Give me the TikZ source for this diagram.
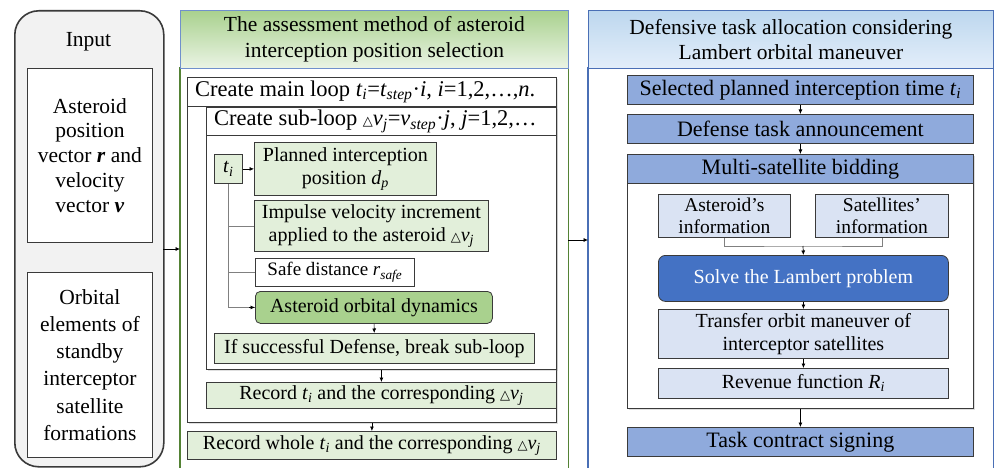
\documentclass[tikz,border=0pt]{standalone}
\usepackage{fontspec}
\setmainfont{Liberation Serif}
\newfontfamily\dejavu{DejaVu Serif}
\usetikzlibrary{arrows.meta,shadows}
\definecolor{boxline}{HTML}{3A3A3A}
\definecolor{lgreen}{HTML}{E2EFDA}
\definecolor{mgreen}{HTML}{A9D18E}
\definecolor{dgreen}{HTML}{548235}
\definecolor{hborder}{HTML}{7090CC}
\definecolor{lblue}{HTML}{DAE3F3}
\definecolor{mblue}{HTML}{8FAADC}
\definecolor{dblue}{HTML}{4472C4}
\definecolor{bborder}{HTML}{4A6FB5}
\definecolor{hbluetop}{HTML}{BDD7EE}
\definecolor{hbluebot}{HTML}{E3EEFA}
\definecolor{panelgray}{HTML}{F2F2F2}
\definecolor{gline}{HTML}{808080}
\newcommand\myti{\textit{t}\textsubscript{\textit{i}}}
\newcommand\mytri{{\dejavu\fontsize{13}{13}\selectfont △}}
\newcommand\mydv{\mytri\textit{v}\textsubscript{\textit{j}}}
\tikzset{
  box/.style={draw=boxline, line width=0.8pt, inner sep=1pt, align=center, anchor=north west,
    font=\fontsize{20}{22.5}\selectfont},
  bigbox/.style={box, font=\fontsize{22}{24}\selectfont},
  ttl/.style={anchor=west, inner sep=0pt, font=\fontsize{22.5}{24}\selectfont},
  arr/.style={-{Latex[length=4.5pt,width=4pt]}, line width=0.7pt, draw=black},
  grayln/.style={draw=gline, line width=0.8pt},
  softshadow/.style={drop shadow={shadow xshift=1.5pt, shadow yshift=-1.5pt, opacity=0.25, fill=gray}},
}
\begin{document}
\begin{tikzpicture}[x=1pt,y=-1pt]
\useasboundingbox (0,0) rectangle (994,468);
% ---------- Input panel
\node[draw=boxline, line width=1.6pt, fill=panelgray, rounded corners=24pt, anchor=north west,
  minimum width=149pt, minimum height=456pt, inner sep=0pt] (inputpanel) at (14,10) {};
\node[font=\fontsize{21.5}{25}\selectfont, inner sep=0pt] (inputtitle) at (88.5,42) {Input};
\node[box, fill=white, minimum width=125pt, minimum height=174pt, font=\fontsize{21.5}{24.8}\selectfont] (inbox1) at (27,68)
  {Asteroid\\position\\vector \textbf{\textit{r}} and\\velocity\\vector \textbf{\textit{v}}};
\node[box, fill=white, minimum width=125pt, minimum height=185pt, font=\fontsize{21.5}{27.3}\selectfont] (inbox2) at (27,272)
  {Orbital\\elements of\\standby\\interceptor\\satellite\\formations};
% ---------- Middle panel
\node[anchor=north west, minimum width=388pt, minimum height=400pt, inner sep=0pt] (midbody) at (180,68) {};
\draw[draw=dgreen, line width=1.2pt] (midbody.south west) -- (midbody.north west) -- (midbody.north east) -- (midbody.south east);
\node[anchor=north west, draw=hborder, line width=0.9pt, top color=mgreen, bottom color=lgreen!70!white,
  minimum width=388pt, minimum height=58pt, inner sep=0pt, align=center, font=\fontsize{21.5}{25.5}\selectfont] (midhead) at (180,10)
  {The assessment method of asteroid\\interception position selection};
\node[box, fill=white, softshadow, minimum width=369pt, minimum height=345pt] (mainloop) at (187,77) {};
\draw[draw=boxline, line width=0.8pt] (187,106) -- (556,106);
\node[ttl] (mainttl) at (195,92) {Create main loop \myti=\textit{t}\textsubscript{\textit{step}}\textperiodcentered\textit{i}, \textit{i}=1,2,…,\textit{n}.};
\node[box, fill=white, softshadow, minimum width=350pt, minimum height=262pt] (subloop) at (206,107) {};
\draw[draw=boxline, line width=0.8pt] (206,135) -- (556,135);
\node[ttl] (subttl) at (214,121.5) {Create sub-loop \mydv=\textit{v}\textsubscript{\textit{step}}\textperiodcentered\textit{j}, \textit{j}=1,2,…};
\node[box, fill=lgreen, minimum width=28pt, minimum height=29pt, font=\fontsize{20}{22}\selectfont] (ti) at (214,154) {\myti};
\node[box, fill=lgreen, minimum width=182pt, minimum height=53pt] (planned) at (254,142) {Planned interception\\position \textit{d}\textsubscript{\textit{p}}};
\node[box, fill=lgreen, minimum width=234pt, minimum height=51pt] (impulse) at (254,200) {Impulse velocity increment\\applied to the asteroid \mydv};
\node[box, fill=white, minimum width=159pt, minimum height=28pt, font=\fontsize{19}{21}\selectfont] (safe) at (255,258) {Safe distance \textit{r}\textsubscript{\textit{safe}}};
\node[box, fill=mgreen, rounded corners=5pt, minimum width=237pt, minimum height=32pt] (dyn) at (255,291) {Asteroid orbital dynamics};
\node[box, fill=lgreen, minimum width=320pt, minimum height=30pt] (ifsucc) at (214,333) {If successful Defense, break sub-loop};
\node[box, fill=lgreen, minimum width=350pt, minimum height=26pt] (recti) at (206,382) {Record \myti{} and the corresponding \mydv};
\node[box, fill=lgreen, minimum width=369pt, minimum height=28pt] (recwhole) at (187,431) {Record whole \myti{} and the corresponding \mydv};
% middle connectors
\draw[arr] (ti) -- (planned);
\draw[grayln] (ti.south) |- (dyn.west);
\draw[arr] ([xshift=-6pt]dyn.west) -- (dyn.west);
\draw[grayln] (ti.south |- impulse.west) -- (impulse.west);
\draw[grayln] (ti.south |- safe.west) -- (safe.west);
\draw[arr] (dyn) -- (ifsucc);
\draw[arr] (subloop.south) -- (recti.north);
\draw[arr] (mainloop.south) -- (recwhole.north);
% ---------- Right panel
\node[anchor=north west, minimum width=405pt, minimum height=400pt, inner sep=0pt] (rightbody) at (588,68) {};
\draw[draw=bborder, line width=1.2pt] (rightbody.south west) -- (rightbody.north west) -- (rightbody.north east) -- (rightbody.south east);
\node[anchor=north west, draw=bborder, line width=0.9pt, top color=hbluetop, bottom color=hbluebot,
  minimum width=405pt, minimum height=58pt, inner sep=0pt, align=center, font=\fontsize{21.5}{25.5}\selectfont] (righthead) at (588,10)
  {Defensive task allocation considering\\Lambert orbital maneuver};
\node[bigbox, fill=mblue, minimum width=346pt, minimum height=29pt] (sel) at (627,75) {Selected planned interception time \myti};
\node[bigbox, fill=mblue, minimum width=346pt, minimum height=29pt] (def) at (627,114) {Defense task announcement};
\node[box, fill=white, softshadow, minimum width=346pt, minimum height=254pt] (multi) at (627,154) {};
\node[bigbox, fill=mblue, minimum width=346pt, minimum height=29pt] (multihead) at (627,154) {Multi-satellite bidding};
\node[box, fill=lblue, minimum width=132pt, minimum height=43pt, font=\fontsize{19.5}{22}\selectfont] (ast) at (658,194) {Asteroid’s\\information};
\node[box, fill=lblue, minimum width=133pt, minimum height=43pt, font=\fontsize{19.5}{22}\selectfont] (sat) at (815,194) {Satellites’\\information};
\node[box, fill=dblue, rounded corners=7pt, text=white, minimum width=290pt, minimum height=46pt] (solve) at (658,255) {Solve the Lambert problem};
\node[box, fill=lblue, minimum width=290pt, minimum height=49pt] (transfer) at (658,309) {Transfer orbit maneuver of\\interceptor satellites};
\node[box, fill=lblue, minimum width=290pt, minimum height=30pt] (revenue) at (658,368) {Revenue function \textit{R}\textsubscript{\textit{i}}};
\node[bigbox, fill=mblue, minimum width=346pt, minimum height=29pt] (task) at (627,427) {Task contract signing};
% right connectors
\draw[arr] (sel) -- (def);
\draw[arr] (def) -- (multihead);
\coordinate (join) at (803,246);
\draw[grayln] (ast.south) |- (join) -| (sat.south);
\draw[arr] (join) -- (solve.north);
\draw[arr] (solve) -- (transfer);
\draw[arr] (transfer) -- (revenue);
\draw[arr] (multi.south) -- (task.north);
% ---------- panel connectors
\coordinate (ia) at (163,249);
\draw[arr] (ia) -- (ia -| midbody.west);
\coordinate (ib) at (568,240);
\draw[arr] (ib) -- (ib -| rightbody.west);
\end{tikzpicture}
\end{document}
